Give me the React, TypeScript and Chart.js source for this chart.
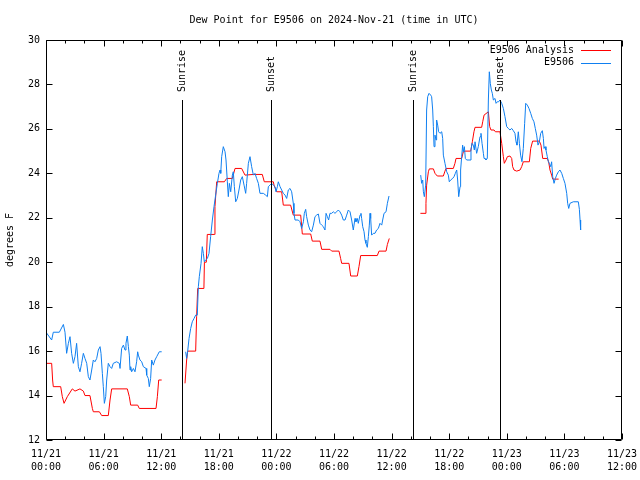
import React, { useEffect, useRef } from "react";
import { Chart, registerables } from "chart.js";

Chart.register(...registerables);

const FONT = "'DejaVu Sans Mono', 'Liberation Mono', monospace";
const TITLE = "Dew Point for E9506 on 2024-Nov-21 (time in UTC)";
const Y_TITLE = "degrees F";
const SERIES_NAMES = ["E9506 Analysis", "E9506"];
const SERIES_COLORS = ["#ff0000", "#0f7ff0"];

// hours since 11/21 00:00 UTC
const X_TICK_HOURS = [0, 6, 12, 18, 24, 30, 36, 42, 48, 54, 60];
const X_TICK_LABELS = [
  ["11/21", "00:00"], ["11/21", "06:00"], ["11/21", "12:00"], ["11/21", "18:00"],
  ["11/22", "00:00"], ["11/22", "06:00"], ["11/22", "12:00"], ["11/22", "18:00"],
  ["11/23", "00:00"], ["11/23", "06:00"], ["11/23", "12:00"],
];

const EVENT_TIMES = [14.2, 23.4, 38.2, 47.3];
const EVENT_LABELS = ["Sunrise", "Sunset", "Sunrise", "Sunset"];

// Observations (E9506)
const OBS1_T = [0.0,0.59,0.76,1.39,1.81,1.98,2.15,2.33,2.5,2.67,2.85,3.02,3.19,3.37,3.54,3.71,3.89,4.06,4.24,4.41,4.58,4.76,4.93,5.1,5.28,5.45,5.63,5.73,5.87,5.97,6.08,6.22,6.32,6.49,6.67,6.84,7.01,7.36,7.64,7.71,7.88,8.06,8.23,8.33,8.47,8.58,8.68,8.75,8.82,8.92,9.1,9.27,9.44,9.55,9.62,9.79,9.97,10.14,10.42,10.49,10.66,10.76,10.9,11.01,11.18,11.35,11.53,11.8,12.05];
const OBS1_V = [16.85,16.5,16.85,16.85,17.2,16.85,15.9,16.35,16.65,15.9,15.45,15.75,16.35,15.3,15.07,15.45,15.9,15.67,15.45,14.85,14.7,15.15,15.6,15.52,15.67,16.05,16.2,15.9,15.0,14.4,13.65,13.95,14.7,15.45,15.3,15.22,15.45,15.52,15.45,15.22,16.12,16.27,16.05,16.35,16.68,16.2,15.82,15.15,15.3,15.07,15.22,15.07,15.52,15.97,15.82,15.6,15.52,15.3,15.22,14.92,14.77,14.4,14.77,15.6,15.37,15.6,15.75,15.97,15.97];

const OBS2_T = [14.55,14.65,14.76,14.9,15.07,15.24,15.42,15.59,15.76,15.87,15.97,16.15,16.28,16.39,16.49,16.63,16.81,16.98,17.15,17.33,17.5,17.67,17.85,18.02,18.13,18.2,18.3,18.47,18.65,18.75,18.89,18.99,19.1,19.24,19.41,19.51,19.62,19.76,19.93,20.1,20.28,20.45,20.63,20.8,20.9,21.08,21.25,21.42,21.6,21.77,21.94,22.12,22.29,22.64,22.88,23.06,23.16,
  23.33,23.51,23.68,23.85,23.96,24.1,24.2,24.38,24.55,24.72,24.9,25.07,25.24,25.42,25.59,25.76,25.83,25.94,26.28,26.46,26.63,26.81,26.91,27.05,27.15,27.33,27.5,27.67,27.85,28.02,28.19,28.37,28.54,28.72,28.89,29.06,29.17,29.31,29.44,29.58,29.76,29.93,30.1,30.28,30.45,30.62,30.8,30.97,31.15,31.32,31.49,31.67,31.84,32.01,32.19,32.29,32.43,32.53,32.71,32.81,32.88,32.99,33.13,33.23,33.33,33.47,33.58,33.68,33.75,33.82,33.92,34.1,34.27,34.44,34.62,34.79,34.97,35.07,35.21,35.42,35.56,35.73];
const OBS2_V = [15.97,15.67,16.0,16.57,17.02,17.32,17.47,17.62,17.62,18.9,19.35,19.95,20.7,20.4,20.02,20.1,20.17,20.4,21.15,21.9,22.5,23.02,23.55,24.0,24.15,24.0,24.75,25.2,24.97,24.6,23.62,22.95,23.55,23.17,23.92,24.07,23.4,22.72,22.87,23.25,23.7,23.85,23.47,23.1,23.55,24.45,24.75,24.3,23.92,24.0,23.77,23.55,23.1,23.1,23.02,22.95,23.4,
  23.47,23.55,23.47,23.4,23.17,23.4,23.62,23.4,23.25,23.1,23.02,22.87,23.25,23.32,23.17,22.65,22.2,21.9,21.9,21.82,21.52,21.82,22.2,22.38,22.05,21.67,21.45,21.37,21.67,22.05,22.12,22.17,21.75,21.67,21.6,21.45,22.2,22.05,21.9,22.2,22.2,22.27,22.2,22.27,22.35,22.27,22.12,21.9,21.9,22.12,22.35,22.27,21.9,21.45,21.97,21.82,21.97,21.75,22.12,22.2,21.97,21.6,21.37,21.0,20.85,20.67,21.15,21.67,22.2,21.97,21.22,21.3,21.3,21.45,21.52,21.75,21.67,21.9,22.2,22.27,22.65,22.98];

const OBS3_T = [39.03,39.13,39.24,39.31,39.41,39.55,39.65,39.76,39.9,40.07,40.17,40.28,40.35,40.42,40.52,40.63,40.69,40.8,40.9,41.04,41.22,41.32,41.39,41.56,41.74,41.91,42.01,42.15,42.36,42.5,42.64,42.78,42.88,42.99,43.13,43.19,43.3,43.4,43.47,43.58,43.68,43.82,44.17,44.27,44.38,44.51,44.62,44.69,44.86,45.03,45.21,45.31,45.42,45.56,45.63,45.73,45.83,45.97,46.08,46.18,46.28,46.39,46.49,46.6,46.77,46.88,47.01,47.15,47.29,47.47,47.64,47.81,47.99,48.16,48.33,48.51,48.68,48.85,48.96,49.06,49.2,49.31,49.44,49.58,49.72,49.86,49.97,50.14,50.31,50.49,50.66,50.83,50.97,51.11,51.25,51.39,51.53,51.7,51.81,51.88,51.98,52.08,52.22,52.33,52.43,52.57,52.67,52.78,52.92,53.06,53.19,53.37,53.54,53.72,53.89,54.06,54.24,54.34,54.45,54.58,54.93,55.45,55.56,55.63,55.69];
const OBS3_V = [23.92,23.55,23.7,23.17,22.95,23.47,26.85,27.45,27.6,27.52,27.45,26.85,26.1,25.2,25.72,25.5,26.4,26.17,25.87,25.8,25.87,25.57,24.82,24.45,24.07,23.92,23.62,23.7,23.77,23.85,24.0,24.15,23.7,22.95,23.4,24.15,24.75,25.27,24.97,25.2,24.67,24.6,24.6,25.05,25.35,25.27,25.05,25.42,24.9,25.2,25.65,25.8,25.35,24.9,24.67,24.67,24.6,24.67,27.3,28.57,28.05,27.75,27.6,27.3,27.37,27.15,27.22,27.22,27.3,27.15,26.92,26.55,26.1,26.02,25.95,26.02,25.92,25.8,25.42,25.27,25.87,25.35,24.82,24.52,25.12,26.25,27.15,27.07,26.92,26.7,26.47,26.32,26.02,25.72,25.27,25.42,25.8,25.92,25.57,25.12,25.2,25.05,24.75,24.52,24.45,24.3,24.52,23.85,23.55,23.77,23.92,24.07,24.15,24.0,23.77,23.55,23.1,22.65,22.42,22.65,22.72,22.72,22.38,21.9,21.45];

// Analysis (E9506 Analysis)
const ANA1_T = [0.0,0.59,0.69,0.76,1.53,1.7,1.88,2.22,2.74,3.02,3.54,3.89,4.06,4.58,4.83,4.93,5.56,5.8,6.49,6.67,6.84,8.47,8.68,8.82,9.55,9.72,11.46,11.6,11.74,12.05];
const ANA1_V = [15.45,15.45,14.7,14.4,14.4,13.95,13.65,13.95,14.3,14.2,14.3,14.2,14.0,14.0,13.42,13.27,13.27,13.1,13.1,13.8,14.3,14.3,13.95,13.57,13.57,13.42,13.42,13.95,14.7,14.7];

const ANA2_T = [14.48,14.65,14.76,15.59,15.69,15.8,16.45,16.5,16.7,16.8,17.53,17.6,17.78,18.58,18.82,19.41,19.69,20.38,20.73,21.6,22.53,22.74,23.68,23.75,24.03,24.55,24.72,25.48,25.76,26.53,26.7,27.57,27.74,28.54,28.72,29.58,29.76,30.52,30.69,30.8,31.56,31.74,32.43,32.6,32.78,34.51,34.69,35.42,35.56,35.76];
const ANA2_V = [14.55,15.6,16.0,16.0,17.55,18.82,18.82,20.0,20.0,21.25,21.25,22.5,23.62,23.62,23.77,23.77,24.22,24.22,23.92,23.95,23.95,23.62,23.62,23.47,23.17,23.17,22.57,22.57,22.12,22.12,21.27,21.27,20.95,20.95,20.58,20.58,20.5,20.5,20.17,19.95,19.95,19.38,19.38,19.8,20.3,20.3,20.5,20.5,20.8,21.07];

const ANA3_T = [39.0,39.48,39.58,39.65,39.83,39.93,40.35,40.52,40.76,41.39,41.56,41.67,42.43,42.6,42.71,43.3,43.47,43.65,44.24,44.41,44.58,44.69,45.38,45.49,45.63,46.08,46.22,46.35,46.67,46.81,47.29,47.47,47.64,47.74,47.92,48.06,48.33,48.51,48.61,48.75,49.03,49.38,49.55,49.72,50.35,50.49,50.69,51.39,51.56,51.74,52.22,52.36,52.5,52.67,52.78,53.4];
const ANA3_V = [22.2,22.2,22.65,23.47,24.07,24.2,24.2,24.0,23.88,23.88,24.1,24.22,24.22,24.45,24.67,24.67,24.97,25.0,25.0,25.42,25.87,26.07,26.07,26.32,26.62,26.77,26.1,25.95,25.95,25.87,25.87,25.35,24.75,24.45,24.6,24.75,24.78,24.67,24.3,24.15,24.1,24.15,24.3,24.52,24.52,25.12,25.45,25.45,25.27,24.67,24.67,24.52,24.15,23.92,23.74,23.74];

type Pt = { x: number; y: number | null };
function pts(t: number[], v: number[]): Pt[] {
  const n = Math.min(t.length, v.length);
  const out: Pt[] = [];
  for (let i = 0; i < n; i++) out.push({ x: t[i], y: v[i] });
  return out;
}
function joinSegments(segs: Pt[][]): Pt[] {
  const out: Pt[] = [];
  segs.forEach((s, i) => {
    if (i > 0 && s.length) out.push({ x: (out[out.length - 1].x + s[0].x) / 2, y: null });
    out.push(...s);
  });
  return out;
}

const gnuplotPlugin = {
  id: "gnuplotDecor",
  afterDatasetsDraw(chart: any) {
    const ctx = chart.ctx as CanvasRenderingContext2D;
    const xs = chart.scales.x;
    const ys = chart.scales.y;
    const a = chart.chartArea;
    ctx.save();
    ctx.strokeStyle = "#000";
    ctx.lineWidth = 1;
    // event lines
    ctx.fillStyle = "#000";
    ctx.font = `10px ${FONT}`;
    EVENT_TIMES.forEach((t, i) => {
      const x = Math.round(xs.getPixelForValue(t)) + 0.5;
      const yTop = a.bottom - 0.85 * (a.bottom - a.top);
      ctx.beginPath();
      ctx.moveTo(x, a.bottom);
      ctx.lineTo(x, yTop);
      ctx.stroke();
      ctx.save();
      ctx.translate(x, yTop - 8);
      ctx.rotate(-Math.PI / 2);
      ctx.textAlign = "left";
      ctx.textBaseline = "middle";
      ctx.fillText(EVENT_LABELS[i], 0, 0);
      ctx.restore();
    });
    // frame
    const L = Math.round(a.left) + 0.5;
    const R = Math.round(a.right) - 0.5;
    const T = Math.round(a.top) + 0.5;
    const B = Math.round(a.bottom) - 0.5;
    ctx.beginPath();
    ctx.rect(L, T, R - L, B - T);
    ctx.stroke();
    // x ticks (major every 6h, minor every 2h)
    ctx.beginPath();
    for (let h = 0; h <= 60; h += 2) {
      const x = Math.round(xs.getPixelForValue(h)) + 0.5;
      const len = h % 6 === 0 ? 6 : 3;
      ctx.moveTo(x, B);
      ctx.lineTo(x, B - len);
      ctx.moveTo(x, T);
      ctx.lineTo(x, T + len);
    }
    // y ticks
    for (let v = 12; v <= 30; v += 2) {
      const y = Math.round(ys.getPixelForValue(v)) + 0.5;
      ctx.moveTo(L, y);
      ctx.lineTo(L + 6, y);
      ctx.moveTo(R, y);
      ctx.lineTo(R - 6, y);
    }
    ctx.stroke();
    ctx.fillStyle = "#000";
    ctx.font = `10px ${FONT}`;
    ctx.textAlign = "center";
    ctx.textBaseline = "middle";
    // x tick labels
    X_TICK_HOURS.forEach((h, i) => {
      const x = xs.getPixelForValue(h);
      const lab = X_TICK_LABELS[i];
      ctx.fillText(lab[0], x, a.bottom + 14);
      ctx.fillText(lab[1], x, a.bottom + 27);
    });
    // title
    ctx.fillText(TITLE, (a.left + a.right) / 2, 20);
    // y title
    ctx.save();
    ctx.translate(10, (a.top + a.bottom) / 2);
    ctx.rotate(-Math.PI / 2);
    ctx.fillText(Y_TITLE, 0, 0);
    ctx.restore();
    // legend
    ctx.textAlign = "right";
    SERIES_NAMES.forEach((name, i) => {
      const y = 50 + i * 12.5;
      ctx.fillStyle = "#000";
      ctx.fillText(name, 574, y);
      ctx.strokeStyle = SERIES_COLORS[i];
      ctx.beginPath();
      ctx.moveTo(581, Math.round(y) + 0.5);
      ctx.lineTo(611, Math.round(y) + 0.5);
      ctx.stroke();
    });
    ctx.restore();
  },
};

export default function App() {
  const ref = useRef<HTMLCanvasElement>(null);
  useEffect(() => {
    if (!ref.current) return;
    const chart = new Chart(ref.current, {
      type: "line",
      data: {
        datasets: [
          {
            label: SERIES_NAMES[0],
            data: joinSegments([pts(ANA1_T, ANA1_V), pts(ANA2_T, ANA2_V), pts(ANA3_T, ANA3_V)]) as any,
            borderColor: SERIES_COLORS[0],
            backgroundColor: SERIES_COLORS[0],
            borderWidth: 1,
            pointRadius: 0,
            spanGaps: false,
            order: 1,
          },
          {
            label: SERIES_NAMES[1],
            data: joinSegments([pts(OBS1_T, OBS1_V), pts(OBS2_T, OBS2_V), pts(OBS3_T, OBS3_V)]) as any,
            borderColor: SERIES_COLORS[1],
            backgroundColor: SERIES_COLORS[1],
            borderWidth: 1,
            pointRadius: 0,
            spanGaps: false,
            order: 0,
          },
        ],
      },
      options: {
        animation: false,
        responsive: false,
        devicePixelRatio: 1,
        events: [],
        layout: { padding: { top: 40, right: 18, left: 0, bottom: 0 } },
        plugins: {
          legend: { display: false },
          title: { display: false },
          tooltip: { enabled: false },
        },
        elements: { line: { tension: 0 }, point: { radius: 0 } },
        scales: {
          x: {
            type: "linear",
            min: 0,
            max: 60,
            border: { display: false },
            grid: { display: false, drawTicks: false },
            ticks: { display: false, stepSize: 6 },
            afterFit: (s: any) => { s.height = 40; },
          },
          y: {
            type: "linear",
            min: 12,
            max: 30,
            border: { display: false },
            grid: { display: false, drawTicks: false },
            ticks: {
              stepSize: 2,
              padding: 6,
              color: "#000",
              font: { family: FONT, size: 10 },
            },
            afterFit: (s: any) => { s.width = 46; },
          },
        },
      },
      plugins: [gnuplotPlugin],
    } as any);
    return () => chart.destroy();
  }, []);
  return (
    <div style={{ position: "absolute", left: 0, top: 0, width: 640, height: 480, background: "#fff" }}>
      <canvas ref={ref} width={640} height={480} style={{ display: "block" }} />
    </div>
  );
}
